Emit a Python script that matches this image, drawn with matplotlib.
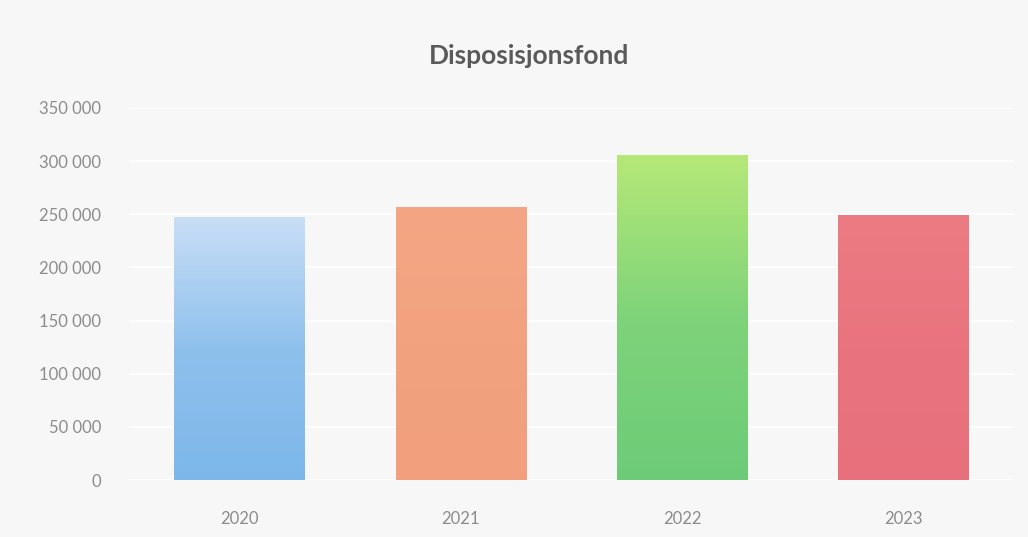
import matplotlib
matplotlib.use("Agg")
import matplotlib.pyplot as plt
import numpy as np
from matplotlib.colors import LinearSegmentedColormap
from matplotlib.ticker import FuncFormatter

# data
years = ["2020", "2021", "2022", "2023"]
values = [247000, 256000, 305000, 249000]
title = "Disposisjonsfond"

# gradient colours per bar (bottom -> top)
gradients = [
    ["#7db7ea", "#8fc0ec", "#c9def6"],
    ["#f19f7d", "#f2a27f", "#f4a684"],
    ["#6dcb78", "#7fd37a", "#b6e878"],
    ["#e7707c", "#e9747f", "#ec7b83"],
]

plt.rcParams['font.family'] = ['Lato', 'DejaVu Sans']

fig = plt.figure(figsize=(10.28, 5.37), dpi=100)
fig.patch.set_facecolor("#f7f7f7")
ax = fig.add_axes([0.1255, 0.106, 0.861, 0.693])
ax.set_facecolor("#f7f7f7")

x = np.arange(len(years))
bars = ax.bar(x, values, width=0.59, color="none", zorder=2)

grad = np.linspace(0, 1, 256).reshape(-1, 1)
for bar, cols in zip(bars, gradients):
    cmap = LinearSegmentedColormap.from_list("g", cols)
    x0 = bar.get_x()
    w = bar.get_width()
    h = bar.get_height()
    ax.imshow(grad, cmap=cmap, origin="lower", aspect="auto",
              extent=(x0, x0 + w, 0, h), zorder=2)

ax.set_xlim(-0.5, len(years) - 0.5)
ax.set_ylim(0, 350000)
ax.set_yticks(np.arange(0, 350001, 50000))
ax.yaxis.set_major_formatter(FuncFormatter(lambda v, p: f"{int(v):,}".replace(",", " ")))
ax.set_xticks(x)
ax.set_xticklabels(years)

ax.grid(axis="y", color="#ffffff", linewidth=1.2, zorder=0)
for s in ax.spines.values():
    s.set_visible(False)
ax.tick_params(axis="both", length=0, labelsize=12, labelcolor="#8c8c8c")
ax.tick_params(axis="y", pad=20)
ax.tick_params(axis="x", pad=22)

fig.text(0.515, 0.895, title, ha="center", va="center",
         fontsize=19, fontweight="bold", color="#5a5a5a")

fig.savefig("out.png", dpi=100, facecolor=fig.get_facecolor())
